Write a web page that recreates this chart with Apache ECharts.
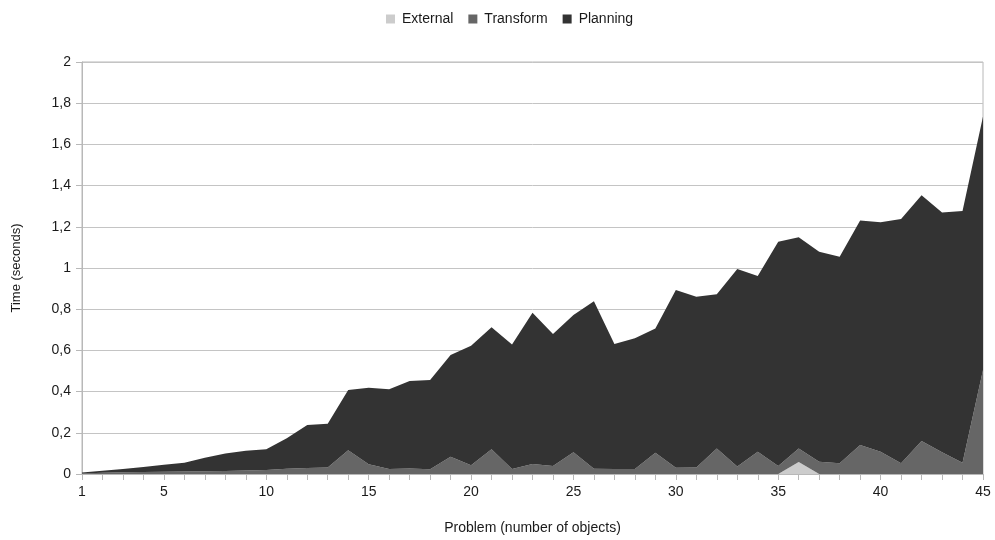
<!DOCTYPE html>
<html>
<head>
<meta charset="utf-8">
<script src="https://cdn.jsdelivr.net/npm/echarts@6/dist/echarts.min.js"></script>
<style>html,body{margin:0;padding:0;background:#fff}#c{width:995px;height:540px}</style>
</head>
<body>
<div id="c"></div>
<script>
const categories = [1,2,3,4,5,6,7,8,9,10,11,12,13,14,15,16,17,18,19,20,21,22,23,24,25,26,27,28,29,30,31,32,33,34,35,36,37,38,39,40,41,42,43,44,45];
const external = [0,0,0,0,0,0,0,0,0,0,0,0,0,0,0,0,0,0,0,0,0,0,0,0,0,0,0,0,0,0,0,0,0,0,0,0.058,0,0,0,0,0,0,0,0,0];
const transform = [0.003,0.006,0.008,0.010,0.011,0.012,0.013,0.015,0.017,0.019,0.026,0.029,0.031,0.115,0.047,0.024,0.027,0.023,0.084,0.042,0.120,0.024,0.048,0.039,0.105,0.026,0.024,0.024,0.103,0.030,0.031,0.124,0.036,0.108,0.039,0.066,0.060,0.052,0.141,0.108,0.052,0.160,0.105,0.055,0.505];
const planning = [0.004,0.010,0.016,0.024,0.034,0.043,0.066,0.085,0.096,0.101,0.147,0.209,0.213,0.293,0.372,0.387,0.424,0.433,0.494,0.581,0.592,0.605,0.735,0.641,0.667,0.812,0.607,0.635,0.603,0.863,0.830,0.748,0.959,0.853,1.089,1.025,1.019,1.003,1.089,1.114,1.186,1.193,1.165,1.222,1.230];
const yTicks = {min: 0, max: 2, interval: 0.2};

const font = 'Liberation Sans, Arial, sans-serif';
const textColor = '#1a1a1a';
const chart = echarts.init(document.getElementById('c'));
function areaSeries(name, data, color) {
  return {
    name, type: 'line', stack: 'total', data,
    symbol: 'none', showSymbol: false,
    lineStyle: {width: 0},
    areaStyle: {color, opacity: 1},
    itemStyle: {color},
    emphasis: {disabled: true}
  };
}
chart.setOption({
  animation: false,
  backgroundColor: '#fff',
  legend: {
    top: 7, left: 381,
    itemWidth: 9, itemHeight: 9, itemGap: 15,
    icon: 'rect',
    textStyle: {fontFamily: font, fontSize: 14, color: textColor, padding: [0, 0, 0, 2]},
    data: ['External', 'Transform', 'Planning']
  },
  grid: {left: 82, right: 12, top: 62, bottom: 66, show: true, borderColor: '#b8b8b8', borderWidth: 1},
  xAxis: {
    type: 'category', data: categories, boundaryGap: false,
    name: 'Problem (number of objects)', nameLocation: 'middle', nameGap: 47,
    nameTextStyle: {fontFamily: font, fontSize: 14, color: textColor},
    axisLine: {lineStyle: {color: '#b8b8b8'}},
    axisTick: {show: true, interval: 0, length: 6, lineStyle: {color: '#b8b8b8'}},
    axisLabel: {
      interval: function (idx, val) { return +val === 1 || +val % 5 === 0; },
      fontFamily: font, fontSize: 14, color: textColor, margin: 11
    },
    splitLine: {show: false}
  },
  yAxis: {
    type: 'value', min: yTicks.min, max: yTicks.max, interval: yTicks.interval,
    name: 'Time (seconds)', nameLocation: 'middle', nameGap: 59,
    nameTextStyle: {fontFamily: font, fontSize: 13, color: textColor},
    axisLine: {show: true, lineStyle: {color: '#b8b8b8'}},
    axisTick: {show: true, length: 6, lineStyle: {color: '#b8b8b8'}},
    axisLabel: {
      fontFamily: font, fontSize: 14, color: textColor, margin: 11,
      formatter: function (v) { return String(Math.round(v * 10) / 10).replace('.', ','); }
    },
    splitLine: {show: true, lineStyle: {color: '#c4c4c4', width: 1}}
  },
  series: [
    areaSeries('External', external, '#cccccc'),
    areaSeries('Transform', transform, '#666666'),
    areaSeries('Planning', planning, '#333333')
  ]
});
</script>
</body>
</html>
